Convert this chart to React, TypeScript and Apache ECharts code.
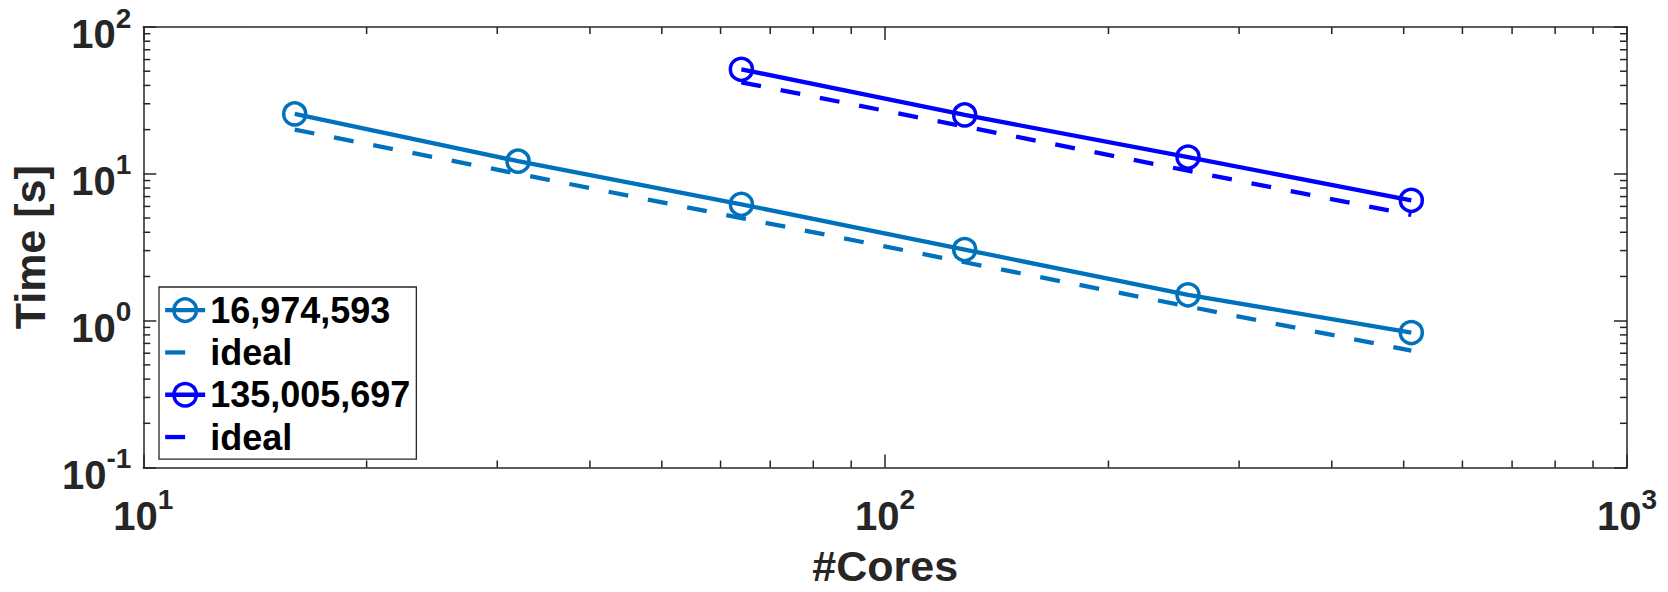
import React, { useEffect, useRef } from 'react';
import * as echarts from 'echarts';

// ---- data ----
const cores1 = [16, 32, 64, 128, 256, 512];
const time1 = [25.6, 12.2, 6.2, 3.05, 1.5, 0.83];
const ideal1 = [20, 10, 5, 2.5, 1.25, 0.625];
const cores2 = [64, 128, 256, 512];
const time2 = [51.5, 25.2, 13.0, 6.6];
const ideal2 = [42, 21, 10.5, 5.25];
const legendNames = ['16,974,593', 'ideal#1', '135,005,697', 'ideal#2'];
const xMinorTicks = [20, 30, 40, 50, 60, 70, 80, 90, 200, 300, 400, 500, 600, 700, 800, 900];
const yMinorTicks = [0.2, 0.3, 0.4, 0.5, 0.6, 0.7, 0.8, 0.9, 2, 3, 4, 5, 6, 7, 8, 9, 20, 30, 40, 50, 60, 70, 80, 90];
const xTitle = '#Cores';
const yTitle = 'Time [s]';

const FONT = '"Liberation Sans", Arial, Helvetica, sans-serif';
const AX = '#262626';
const C1 = '#0072BD';
const C2 = '#0000FF';
const LW = 4.3;

const expLabel = (v: number) => `{b|10}{s|${Math.round(Math.log10(v))}}`;

const rich = {
  b: { fontFamily: FONT, fontWeight: 'bold', fontSize: 40, lineHeight: 60, color: AX, verticalAlign: 'middle' },
  s: { fontFamily: FONT, fontWeight: 'bold', fontSize: 28, lineHeight: 28, color: AX, verticalAlign: 'top' },
};

const lineSt = { color: AX, width: 1.5 };

function mkAxis(kind: 'x' | 'y', pos: string, labels: boolean, min: number, max: number): any {
  const base: any = {
    type: 'log',
    logBase: 10,
    min,
    max,
    position: pos,
    axisLine: { show: true, onZero: false, lineStyle: lineSt },
    axisTick: { show: true, inside: true, length: 13, lineStyle: lineSt },
    splitLine: { show: false },
    minorTick: { show: false },
    minorSplitLine: { show: false },
  };
  if (!labels) {
    base.axisLabel = { show: false };
  } else {
    base.axisLabel = {
      show: true,
      formatter: expLabel,
      rich,
      margin: kind === 'x' ? 18 : 12,
      padding: kind === 'x' ? 0 : [14, 0, 0, 0],
      showMinLabel: true,
      showMaxLabel: true,
      hideOverlap: false,
    };
    base.name = kind === 'x' ? xTitle : yTitle;
    base.nameLocation = 'middle';
    base.nameGap = kind === 'x' ? 98 : 107;
    base.nameTextStyle = {
      fontFamily: FONT,
      fontWeight: 'bold',
      fontSize: 43,
      color: AX,
      verticalAlign: 'middle',
      align: 'center',
    };
  }
  return base;
}

export default function App() {
  const ref = useRef<HTMLDivElement>(null);
  useEffect(() => {
    if (!ref.current) return;
    const chart = echarts.init(ref.current, null, { renderer: 'svg' });
    const mkLine = (name: string, xs: number[], ys: number[], color: string, dashed: boolean): any => ({
      name,
      type: 'line',
      data: xs.map((x, i) => [x, ys[i]]),
      symbol: 'circle',
      symbolSize: dashed ? 0 : 22,
      showSymbol: !dashed,
      lineStyle: { color, width: LW, type: dashed ? [20, 20] : 'solid' },
      itemStyle: dashed
        ? { color: 'rgba(0,0,0,0)', borderWidth: 0 }
        : { color: 'rgba(0,0,0,0)', borderColor: color, borderWidth: 3.5 },
      emphasis: { disabled: true },
      z: dashed ? 2 : 3,
    });
    chart.setOption({
      animation: false,
      backgroundColor: '#ffffff',
      grid: { left: 139, top: 27, right: 41, bottom: 118, containLabel: false },
      xAxis: [mkAxis('x', 'bottom', true, 10, 1000), mkAxis('x', 'top', false, 10, 1000)],
      yAxis: [mkAxis('y', 'left', true, 0.1, 100), mkAxis('y', 'right', false, 0.1, 100)],
      legend: {
        data: legendNames,
        orient: 'vertical',
        left: 159,
        top: 287,
        padding: [2, 6, 1, 4],
        itemGap: 0,
        itemWidth: 40,
        itemHeight: 28,
        selectedMode: false,
        backgroundColor: '#ffffff',
        borderColor: AX,
        borderWidth: 1.3,
        borderRadius: 0,
        lineStyle: { width: 'inherit' },
        itemStyle: { borderWidth: 'inherit' },
        formatter: (n: string) => n.split('#')[0],
        textStyle: { fontFamily: FONT, fontWeight: 'bold', fontSize: 36, lineHeight: 42.3, color: '#000000' },
      },
      series: [
        {
          type: 'custom',
          xAxisIndex: 0,
          yAxisIndex: 0,
          silent: true,
          z: 1,
          data: [...xMinorTicks.map((v) => [v, 1, 0]), ...yMinorTicks.map((v) => [10, v, 1])],
          renderItem: (_p: any, api: any) => {
            const kind = api.value(2);
            const L = 7;
            const st = { stroke: AX, lineWidth: 1.5 };
            if (kind === 0) {
              const v = api.value(0);
              const b = api.coord([v, 0.1]);
              const t = api.coord([v, 100]);
              return {
                type: 'group',
                children: [
                  { type: 'line', shape: { x1: b[0], y1: b[1], x2: b[0], y2: b[1] - L }, style: st },
                  { type: 'line', shape: { x1: t[0], y1: t[1], x2: t[0], y2: t[1] + L }, style: st },
                ],
              };
            }
            const v = api.value(1);
            const l = api.coord([10, v]);
            const r = api.coord([1000, v]);
            return {
              type: 'group',
              children: [
                { type: 'line', shape: { x1: l[0], y1: l[1], x2: l[0] + L, y2: l[1] }, style: st },
                { type: 'line', shape: { x1: r[0], y1: r[1], x2: r[0] - L, y2: r[1] }, style: st },
              ],
            };
          },
        },
        mkLine(legendNames[0], cores1, time1, C1, false),
        mkLine(legendNames[1], cores1, ideal1, C1, true),
        mkLine(legendNames[2], cores2, time2, C2, false),
        mkLine(legendNames[3], cores2, ideal2, C2, true),
      ],
    });
    return () => chart.dispose();
  }, []);
  return (
    <div
      ref={ref}
      style={{ position: 'absolute', left: 0, top: 0, width: 1668, height: 592, background: '#ffffff' }}
    />
  );
}
